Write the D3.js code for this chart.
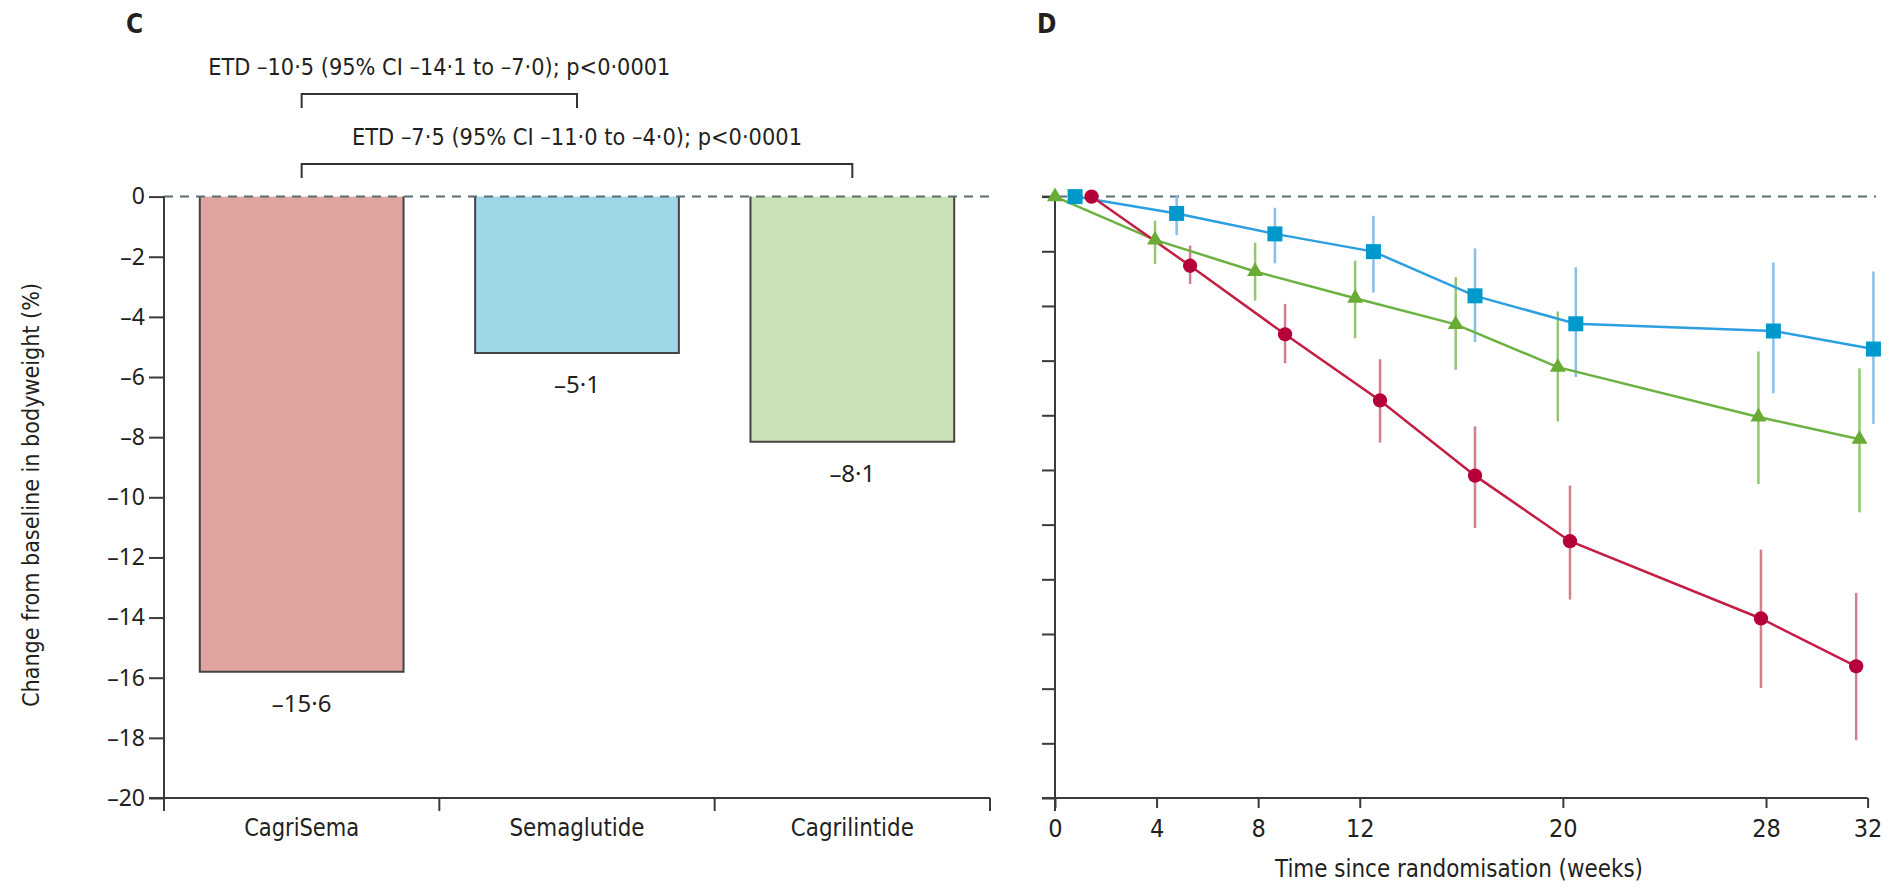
<!DOCTYPE html>
<html><head><meta charset="utf-8">
<script src="https://cdn.jsdelivr.net/npm/d3@7"></script>
<style>
html,body{margin:0;padding:0;background:#fff;}
svg{display:block;}
</style></head>
<body><svg id="chart" width="1891" height="888"></svg>
<script>
// ---------------- data ----------------
const categories = ["CagriSema", "Semaglutide", "Cagrilintide"];
const barValues = [-15.8, -5.2, -8.15];
const barLabels = ["–15·6", "–5·1", "–8·1"];
const leftYTicks = [0, -2, -4, -6, -8, -10, -12, -14, -16, -18, -20];
const weekTicks = [0, 4, 8, 12, 20, 28, 32];
const rightYTickCount = 11;

const etdTexts = ["ETD –10·5 (95% CI –14·1 to –7·0); p<0·0001", "ETD –7·5 (95% CI –11·0 to –4·0); p<0·0001"];
const etdFrom = ["CagriSema", "CagriSema"];
const etdTo = ["Semaglutide", "Cagrilintide"];

const cagriSemaWeeks = [1.44, 5.32, 9.06, 12.8, 16.54, 20.28, 27.8, 31.55];
const cagriSemaMean  = [0, -2.30, -4.58, -6.78, -9.28, -11.46, -14.03, -15.62];
const cagriSemaHigh  = [null, -1.63, -3.57, -5.41, -7.64, -9.61, -11.74, -13.18];
const cagriSemaLow   = [null, -2.91, -5.54, -8.18, -11.02, -13.40, -16.34, -18.08];

const semaWeeks = [0.79, 4.79, 8.66, 12.54, 16.54, 20.51, 28.29, 32.23];
const semaMean  = [0, -0.56, -1.24, -1.83, -3.30, -4.23, -4.47, -5.07];
const semaHigh  = [null, 0.05, -0.37, -0.64, -1.72, -2.35, -2.19, -2.49];
const semaLow   = [null, -1.28, -2.22, -3.19, -4.84, -6.00, -6.54, -7.56];

const cagriWeeks = [0, 3.94, 7.88, 11.82, 15.78, 19.8, 27.7, 31.68];
const cagriMean  = [0, -1.44, -2.49, -3.38, -4.25, -5.67, -7.33, -8.07];
const cagriHigh  = [null, -0.80, -1.53, -2.13, -2.68, -3.82, -5.15, -5.71];
const cagriLow   = [null, -2.24, -3.46, -4.71, -5.76, -7.48, -9.56, -10.50];

// ---------------- styles ----------------
const COND = '"Liberation Sans Narrow","DejaVu Sans Condensed","Arial Narrow","Noto Sans",sans-serif';
const REG = '"Noto Sans","Open Sans","DejaVu Sans",sans-serif';
const TXT = "#231f20";
const AX = "#3a3a3a";
const barFill = ["#e0a4a1", "#9fd6e8", "#cae0b5"];

const svg = d3.select("#chart");

// ---------------- scales ----------------
const y = d3.scaleLinear().domain([0, -20]).range([196.6, 798]);
const xb = d3.scaleBand().domain(categories).range([164, 990]).paddingInner(0.26).paddingOuter(0.13);
const xw = d3.scaleLinear().domain([0, 32]).range([1055, 1867.6]);

const axisBottomY = y(-20);
const axisExtra = 13;

// ---------------- panel labels ----------------
svg.append("text").attr("x", 126).attr("y", 33).text("C")
  .attr("font-family", COND).attr("font-weight", "bold").attr("font-size", 26).attr("fill", TXT);
svg.append("text").attr("x", 1037).attr("y", 33).text("D")
  .attr("font-family", COND).attr("font-weight", "bold").attr("font-size", 26).attr("fill", TXT);

// ---------------- left panel ----------------
const L = svg.append("g");
const bw = xb.bandwidth();

// bars
L.selectAll("rect.bar").data(categories).join("rect").attr("class", "bar")
  .attr("x", d => xb(d)).attr("width", bw)
  .attr("y", y(0)).attr("height", (d, i) => y(barValues[i]) - y(0))
  .attr("fill", (d, i) => barFill[i]);
L.selectAll("path.barOutline").data(categories).join("path").attr("class", "barOutline")
  .attr("d", (d, i) => `M${xb(d)},${y(0)}V${y(barValues[i])}H${xb(d) + bw}V${y(0)}`)
  .attr("fill", "none").attr("stroke", "#444").attr("stroke-width", 2);

// value labels
L.selectAll("text.val").data(categories).join("text").attr("class", "val")
  .attr("x", d => xb(d) + bw / 2).attr("y", (d, i) => y(barValues[i]) + 40)
  .attr("text-anchor", "middle").attr("font-family", REG).attr("font-size", 24).attr("fill", TXT)
  .text((d, i) => barLabels[i]);

// zero dashed line
L.append("line").attr("x1", 164).attr("x2", 990).attr("y1", y(0)).attr("y2", y(0))
  .attr("stroke", "#5a6e75").attr("stroke-width", 2).attr("stroke-dasharray", "9,7");

// y axis
const yAxisL = d3.axisLeft(y).tickValues(leftYTicks).tickSize(15).tickPadding(4)
  .tickFormat(d => d === 0 ? "0" : "–" + Math.abs(d));
const gyl = L.append("g").attr("transform", "translate(164,0)").call(yAxisL);
gyl.select(".domain").remove();
gyl.selectAll(".tick line").attr("stroke", AX).attr("stroke-width", 2);
gyl.selectAll(".tick text").attr("font-family", REG).attr("font-size", 23).attr("fill", TXT);
L.append("line").attr("x1", 164).attr("x2", 164).attr("y1", y(0)).attr("y2", axisBottomY + axisExtra)
  .attr("stroke", AX).attr("stroke-width", 2);

// x axis (band)
L.append("line").attr("x1", 149).attr("x2", 990).attr("y1", axisBottomY).attr("y2", axisBottomY)
  .attr("stroke", AX).attr("stroke-width", 2);
const boundaries = d3.range(categories.length + 1).map(i => xb.range()[0] + i * xb.step());
L.selectAll("line.bt").data(boundaries).join("line").attr("class", "bt")
  .attr("x1", d => d).attr("x2", d => d).attr("y1", axisBottomY).attr("y2", axisBottomY + axisExtra)
  .attr("stroke", AX).attr("stroke-width", 2);
const catWidths = [115, 135, 123];
L.selectAll("text.cat").data(categories).join("text").attr("class", "cat")
  .attr("x", d => xb(d) + bw / 2).attr("y", 836).attr("text-anchor", "middle")
  .attr("font-family", COND).attr("font-size", 25).attr("fill", TXT)
  .attr("textLength", (d, i) => catWidths[i]).attr("lengthAdjust", "spacingAndGlyphs")
  .text(d => d);

// y label
L.append("text").attr("transform", "translate(31,495) rotate(-90)")
  .attr("text-anchor", "middle").attr("dominant-baseline", "central")
  .attr("font-family", COND).attr("font-size", 23).attr("fill", TXT)
  .attr("textLength", 424).attr("lengthAdjust", "spacingAndGlyphs")
  .text("Change from baseline in bodyweight (%)");

// brackets & ETD text
const bracketTops = [94, 164];
const etdWidths = [462, 450];
etdTexts.forEach((t, i) => {
  const x1 = xb(etdFrom[i]) + bw / 2, x2 = xb(etdTo[i]) + bw / 2, yt = bracketTops[i];
  L.append("path").attr("d", `M${x1},${yt + 14}V${yt}H${x2}V${yt + 14}`)
    .attr("fill", "none").attr("stroke", "#333").attr("stroke-width", 2);
  L.append("text").attr("x", (x1 + x2) / 2).attr("y", yt - 19).attr("text-anchor", "middle")
    .attr("font-family", COND).attr("font-size", 23).attr("fill", TXT)
    .attr("textLength", etdWidths[i]).attr("lengthAdjust", "spacingAndGlyphs")
    .text(t);
});

// ---------------- right panel ----------------
const R = svg.append("g");

// zero dashed line
R.append("line").attr("x1", 1042).attr("x2", 1876).attr("y1", y(0)).attr("y2", y(0))
  .attr("stroke", "#5a6e75").attr("stroke-width", 2).attr("stroke-dasharray", "9,7");

// y axis (unlabelled ticks)
const rTicks = d3.range(rightYTickCount + 1).map(i => -20 * i / rightYTickCount);
const yAxisR = d3.axisLeft(y).tickValues(rTicks).tickSize(13).tickFormat("");
const gyr = R.append("g").attr("transform", "translate(1055,0)").call(yAxisR);
gyr.select(".domain").remove();
gyr.selectAll(".tick line").attr("stroke", AX).attr("stroke-width", 2);
R.append("line").attr("x1", 1055).attr("x2", 1055).attr("y1", y(0)).attr("y2", axisBottomY + axisExtra)
  .attr("stroke", AX).attr("stroke-width", 2);

// x axis
const xAxisR = d3.axisBottom(xw).tickValues(weekTicks).tickSize(10).tickPadding(11).tickFormat(d => d);
const gxr = R.append("g").attr("transform", `translate(0,${axisBottomY})`).call(xAxisR);
gxr.select(".domain").remove();
gxr.selectAll(".tick line").attr("stroke", AX).attr("stroke-width", 2);
gxr.selectAll(".tick text").attr("font-family", COND).attr("font-size", 25).attr("fill", TXT);
R.append("line").attr("x1", 1042).attr("x2", xw(32)).attr("y1", axisBottomY).attr("y2", axisBottomY)
  .attr("stroke", AX).attr("stroke-width", 2);

R.append("text").attr("x", 1459).attr("y", 877).attr("text-anchor", "middle")
  .attr("font-family", COND).attr("font-size", 25).attr("fill", TXT)
  .attr("textLength", 368).attr("lengthAdjust", "spacingAndGlyphs")
  .text("Time since randomisation (weeks)");

// series
const series = [
  { w: cagriWeeks, m: cagriMean, hi: cagriHigh, lo: cagriLow, line: "#6cb242", mk: "#6aab35", err: "#93c772", sym: d3.symbolTriangle, size: 110 },
  { w: semaWeeks, m: semaMean, hi: semaHigh, lo: semaLow, line: "#2c9fe0", mk: "#0099cc", err: "#88bfe9", sym: d3.symbolSquare, size: 225 },
  { w: cagriSemaWeeks, m: cagriSemaMean, hi: cagriSemaHigh, lo: cagriSemaLow, line: "#c41e45", mk: "#b5003a", err: "#d47d8d", sym: d3.symbolCircle, size: 160 }
];

series.forEach(s => {
  const pts = s.w.map((w, i) => ({ w, m: s.m[i], hi: s.hi[i], lo: s.lo[i] }));
  R.append("g").selectAll("line").data(pts.filter(p => p.hi !== null)).join("line")
    .attr("x1", p => xw(p.w)).attr("x2", p => xw(p.w))
    .attr("y1", p => y(p.hi)).attr("y2", p => y(p.lo))
    .attr("stroke", s.err).attr("stroke-width", 2.5);
});
series.forEach(s => {
  const pts = s.w.map((w, i) => ({ w, m: s.m[i] }));
  R.append("path").datum(pts)
    .attr("d", d3.line().x(p => xw(p.w)).y(p => y(p.m)))
    .attr("fill", "none").attr("stroke", s.line).attr("stroke-width", 2.5);
});
series.forEach(s => {
  const pts = s.w.map((w, i) => ({ w, m: s.m[i] }));
  R.append("g").selectAll("path").data(pts).join("path")
    .attr("transform", p => `translate(${xw(p.w)},${y(p.m)})`)
    .attr("d", d3.symbol().type(s.sym).size(s.size))
    .attr("fill", s.mk);
});
</script>
</body></html>
